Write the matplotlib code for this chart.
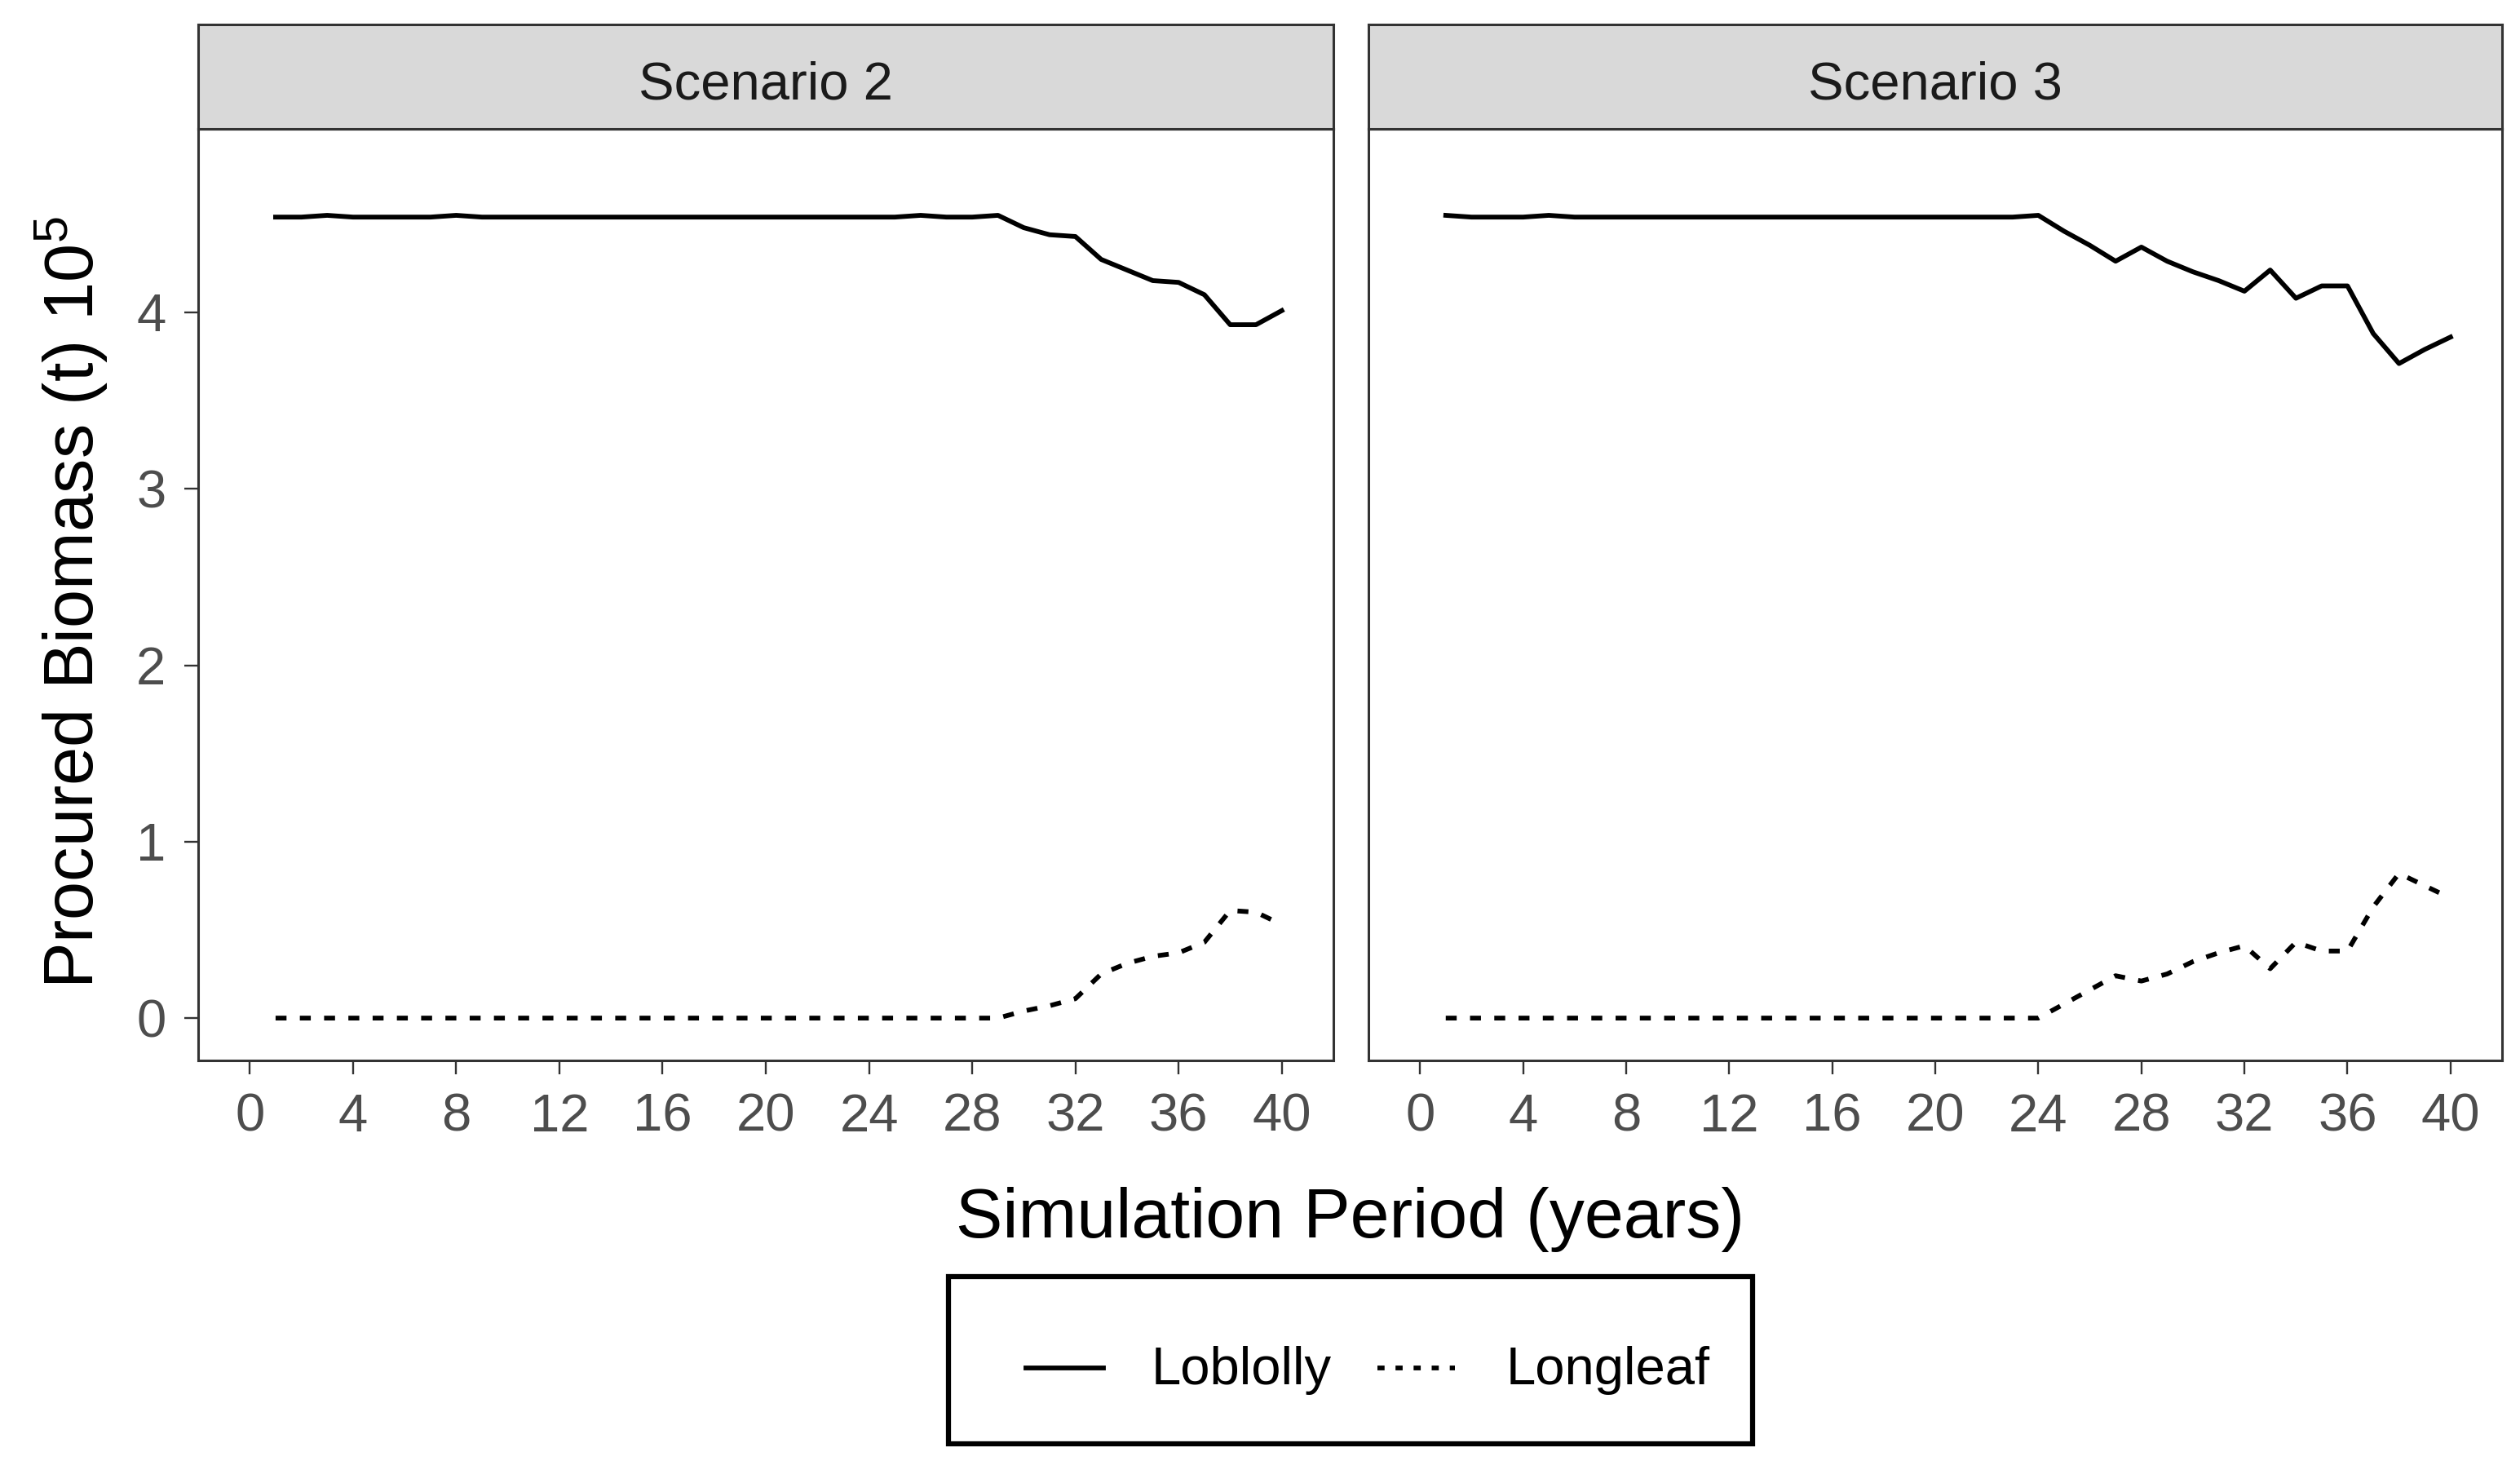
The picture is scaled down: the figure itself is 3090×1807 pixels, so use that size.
import matplotlib
matplotlib.use("Agg")
import matplotlib.pyplot as plt
from matplotlib.patches import Rectangle
from matplotlib.lines import Line2D

plt.rcParams['font.family'] = ['Liberation Sans', 'DejaVu Sans']
plt.rcParams['mathtext.default'] = 'regular'

# ---------------- data ----------------
years = list(range(1, 41))
panels = ["Scenario 2", "Scenario 3"]
series_names = ["Loblolly", "Longleaf"]

loblolly_s2 = [4.54, 4.54, 4.55, 4.54, 4.54, 4.54, 4.54, 4.55, 4.54, 4.54,
               4.54, 4.54, 4.54, 4.54, 4.54, 4.54, 4.54, 4.54, 4.54, 4.54,
               4.54, 4.54, 4.54, 4.54, 4.54, 4.55, 4.54, 4.54, 4.55, 4.48,
               4.44, 4.43, 4.30, 4.24, 4.18, 4.17, 4.10, 3.93, 3.93, 4.01]
longleaf_s2 = [0.0] * 29 + [0.04, 0.07, 0.11, 0.25, 0.31, 0.35, 0.37, 0.43,
                            0.61, 0.60, 0.53]

loblolly_s3 = [4.55, 4.54, 4.54, 4.54, 4.55, 4.54, 4.54, 4.54, 4.54, 4.54,
               4.54, 4.54, 4.54, 4.54, 4.54, 4.54, 4.54, 4.54, 4.54, 4.54,
               4.54, 4.54, 4.54, 4.55, 4.46, 4.38, 4.29, 4.37, 4.29, 4.23,
               4.18, 4.12, 4.24, 4.08, 4.15, 4.15, 3.88, 3.71, 3.79, 3.86]
longleaf_s3 = [0.0] * 24 + [0.08, 0.16, 0.24, 0.21, 0.25, 0.32, 0.37, 0.41,
                            0.28, 0.43, 0.38, 0.38, 0.63, 0.82, 0.75, 0.68]

x_ticks = [0, 4, 8, 12, 16, 20, 24, 28, 32, 36, 40]
y_ticks = [0, 1, 2, 3, 4]

data = {
    "Scenario 2": (loblolly_s2, longleaf_s2),
    "Scenario 3": (loblolly_s3, longleaf_s3),
}

# ---------------- layout ----------------
W, H = 3090, 1807
fig = plt.figure(figsize=(W / 100, H / 100), dpi=100)
fig.patch.set_facecolor('white')


def rect(x0, y0, x1, y1):
    return [x0 / W, 1 - y1 / H, (x1 - x0) / W, (y1 - y0) / H]


border_col = '#333333'
tick_lab_col = '#4D4D4D'
LW = 4.2
DASH = (2.3, 2.8)

panel_x = [(243, 1635), (1678, 3068)]
axes = []
for i, (name, (x0, x1)) in enumerate(zip(panels, panel_x)):
    ax = fig.add_axes(rect(x0, 158, x1, 1300))
    lob, lon = data[name]
    ax.plot(years, lob, color='black', lw=LW, solid_joinstyle='round')
    l2, = ax.plot(years, lon, color='black', lw=LW)
    l2.set_dashes(DASH)
    ax.set_xlim(-2, 42)
    ax.set_ylim(-0.24, 5.04)
    ax.set_xticks(x_ticks)
    ax.set_xticklabels([str(t) for t in x_ticks])
    ax.set_yticks(y_ticks)
    ax.tick_params(axis='both', length=12.5, width=1.7, color=border_col,
                   labelcolor=tick_lab_col, labelsize=47, pad=16)
    if i == 1:
        ax.tick_params(axis='y', left=False, labelleft=False)
    for sp in ax.spines.values():
        sp.set_color(border_col)
        sp.set_linewidth(2.2)
    ax.grid(False)

    # strip
    sax = fig.add_axes(rect(x0, 30, x1, 158))
    sax.set_facecolor('#D9D9D9')
    sax.set_xticks([])
    sax.set_yticks([])
    for sp in sax.spines.values():
        sp.set_color(border_col)
        sp.set_linewidth(2.2)
    sax.text(0.5, (158 - 122) / 128, name, transform=sax.transAxes,
             ha='center', va='baseline', fontsize=47, color='#1A1A1A')
    axes.append(ax)

# axis titles
fig.text(1656 / W, 1 - 1517 / H, "Simulation Period (years)", ha='center',
         va='baseline', fontsize=62, color='black')
fig.text(88 / W, 1 - 738 / H, "Procured Biomass (t) 10$^5$", ha='center',
         va='center', rotation=90, fontsize=61, color='black')

# legend (drawn as a box with sample lines)
fig.patches.append(Rectangle((1163 / W, 1 - 1770 / H), (2149 - 1163) / W,
                             (1770 - 1565) / H, transform=fig.transFigure,
                             facecolor='white', edgecolor='black', lw=4.5))
ly = 1 - 1677 / H
fig.lines.append(Line2D([1258 / W, 1353 / W], [ly, ly],
                        transform=fig.transFigure, color='black', lw=LW))
ll = Line2D([1689 / W, 1784 / W], [ly, ly], transform=fig.transFigure,
            color='black', lw=LW)
ll.set_dashes((1.5, 2.3))
fig.lines.append(ll)
fig.text(1412 / W, 1 - 1697 / H, series_names[0], ha='left', va='baseline',
         fontsize=47, color='black')
fig.text(1847 / W, 1 - 1697 / H, series_names[1], ha='left', va='baseline',
         fontsize=47, color='black')

fig.savefig("out.png", dpi=100, facecolor='white')
